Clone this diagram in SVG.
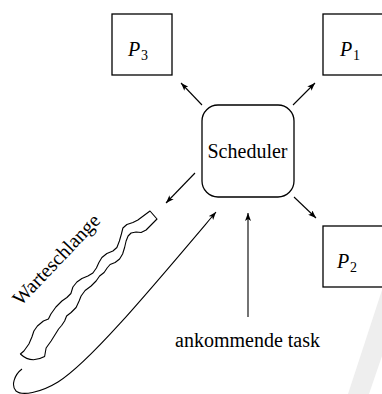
<svg xmlns="http://www.w3.org/2000/svg" width="382" height="394" viewBox="0 0 382 394">
<style>
.box{fill:none;stroke:#000;stroke-width:1.3}
.ln{fill:none;stroke:#000;stroke-width:1.1}
.t{font-family:"Liberation Serif","Times New Roman",serif;font-size:20px;fill:#000}
.p{font-family:"Liberation Serif","Times New Roman",serif;font-style:italic;font-size:20px;fill:#000}
.s{font-family:"Liberation Serif","Times New Roman",serif;font-size:14px;fill:#000}
</style>
<defs>
<marker id="ah" markerUnits="userSpaceOnUse" markerWidth="9" markerHeight="6" refX="8" refY="3" orient="auto">
<path d="M0,0 L8,3 L0,6 L2,3 z" fill="#000"/>
</marker>
</defs>
<rect width="382" height="394" fill="#fff"/>
<polygon points="348,394 369,394 382,356 382,290" fill="#eeeeee"/>
<g id="P3"><rect class="box" x="112" y="14" width="60" height="61"/><text class="p" x="128" y="55.5">P</text><text class="s" x="141" y="59.5">3</text></g>
<g id="P1"><rect class="box" x="323" y="14" width="70" height="61"/><text class="p" x="340" y="55.5">P</text><text class="s" x="353" y="59.5">1</text></g>
<g id="P2"><rect class="box" x="323" y="226" width="70" height="61"/><text class="p" x="337" y="267.5">P</text><text class="s" x="350" y="271.5">2</text></g>
<g id="Scheduler"><rect class="box" x="202" y="105" width="92" height="92" rx="16" ry="16"/><text class="t" x="247.5" y="157.5" text-anchor="middle">Scheduler</text></g>
<g id="Warteschlange">
<path class="ln" stroke-linejoin="round" d="M150,211 L137.9,220 L132.9,222.5 L126.9,224.5 L122.9,228 L121.4,234 L119.4,241 L116.9,247.5 L112.9,251 L106.9,253.5 L101.9,257.5 L98.9,262.5 L96.4,268 L92.9,273 L87.9,276 L81.9,278.5 L76.9,282 L72.9,287 L70.9,293.5 L66.9,297.5 L61.9,301 L55.9,307 L50.9,314 L48.4,319 L43.4,321 L37.4,326 L33.9,331 L31.9,337 L28.9,344 L23.9,351 L20.4,354 Q31,364 44.6,356.5 L46.1,348 L51.1,341 L56.1,333 L58.6,329 L61.6,325.5 L64.6,321 L66.6,316 L71.1,312.5 L76.1,307.5 L79.1,301 L81.1,296 L85.1,290.5 L91.1,286 L96.1,281 L99.6,276 L104.1,272.5 L107.1,268 L110.1,264.5 L115.1,262.5 L119.6,259 L122.6,254 L124.6,247.5 L126.1,241 L128.1,236 L131.1,233 L136.1,232 L141.1,232.5 L146.1,230 L157,219 Z"/>
<text class="t" transform="translate(61,264) rotate(-46.5)" text-anchor="middle">Warteschlange</text>
</g>
<g id="incoming"><text class="t" x="247.5" y="346.5" text-anchor="middle">ankommende task</text></g>
<g id="connectors">
<path class="ln" d="M202,105 L181,83" marker-end="url(#ah)"/>
<path class="ln" d="M293,105 L315,83" marker-end="url(#ah)"/>
<path class="ln" d="M294,197 L316,218" marker-end="url(#ah)"/>
<path class="ln" d="M195,173 L166,203" marker-end="url(#ah)"/>
<path class="ln" d="M22,369 C14,375 11,386 16,391 C22,396 40,393 58,382 C90,362 150,290 216,212" marker-end="url(#ah)"/>
<path class="ln" d="M248,317 L248,213" marker-end="url(#ah)"/>
</g>
</svg>
